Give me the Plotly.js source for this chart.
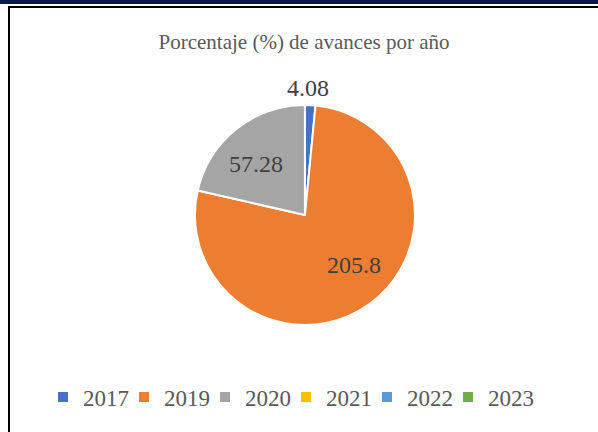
<!DOCTYPE html>
<html><head><meta charset="utf-8">
<script src="https://cdn.plot.ly/plotly-3.0.1.min.js"></script>
<style>
html,body{margin:0;padding:0;background:#fff;}
#wrap{position:relative;width:598px;height:432px;overflow:hidden;}
#chart{position:absolute;left:0;top:0;width:598px;height:432px;}
.b1{position:absolute;left:0;top:0;width:598px;height:4px;background:#0b1a4a;}
.b2{position:absolute;left:8px;top:6px;width:590px;height:2px;background:#000;}
.b3{position:absolute;left:8px;top:6px;width:2px;height:426px;background:#000;}
#chart text{font-family:'Liberation Serif','Times New Roman',serif !important;}
#chart .legend .scrollbox, #chart .legend g{clip-path:none !important;}
</style></head>
<body><div id="wrap"><div id="chart"></div><div class="b1"></div><div class="b2"></div><div class="b3"></div></div>
<script>
const years = ['2017','2019','2020','2021','2022','2023'];
const values = [4.08, 205.8, 57.28, 0, 0, 0];
const colors = ['#4472C4','#ED7D31','#A5A5A5','#FFC000','#5B9BD5','#70AD47'];
// label anchor positions (pixels) for the non-zero slices
const labelPos = [[308,88],[354,265],[256,164]];
const FONT = "'Liberation Serif'";
const trace = {
  type:'pie', labels: years, values: values, sort:false, direction:'clockwise', rotation:0,
  marker:{colors: colors, line:{color:'#fff', width:2}},
  textinfo:'none',
  domain:{x:[0.326,0.694], y:[0.2477,0.757]},
  hoverinfo:'none', automargin:false
};
const annotations = labelPos.map((p,i)=>({
  text: String(values[i]), x:p[0]/598, y:1-p[1]/432, xref:'paper', yref:'paper',
  xanchor:'center', yanchor:'middle', showarrow:false,
  font:{family:FONT, size:24, color:'#404040'}
}));
const layout = {
  width:598, height:432, margin:{l:0,r:0,t:0,b:0},
  paper_bgcolor:'#fff',
  font:{family:FONT},
  title:{text:'Porcentaje (%) de avances por año', x:304/598, xanchor:'center', y:1-42/432, yanchor:'middle',
    font:{family:FONT, size:21, color:'#595959'}},
  showlegend:true,
  legend:{orientation:'h', x:0.5-13/598, xanchor:'center', y:1-397/432, yanchor:'middle',
    entrywidth:36, entrywidthmode:'pixels',
    font:{family:FONT, size:23, color:'#595959'}, traceorder:'normal'},
  annotations: annotations
};
Plotly.newPlot('chart',[trace],layout,{displayModeBar:false, staticPlot:true});
</script></body></html>
